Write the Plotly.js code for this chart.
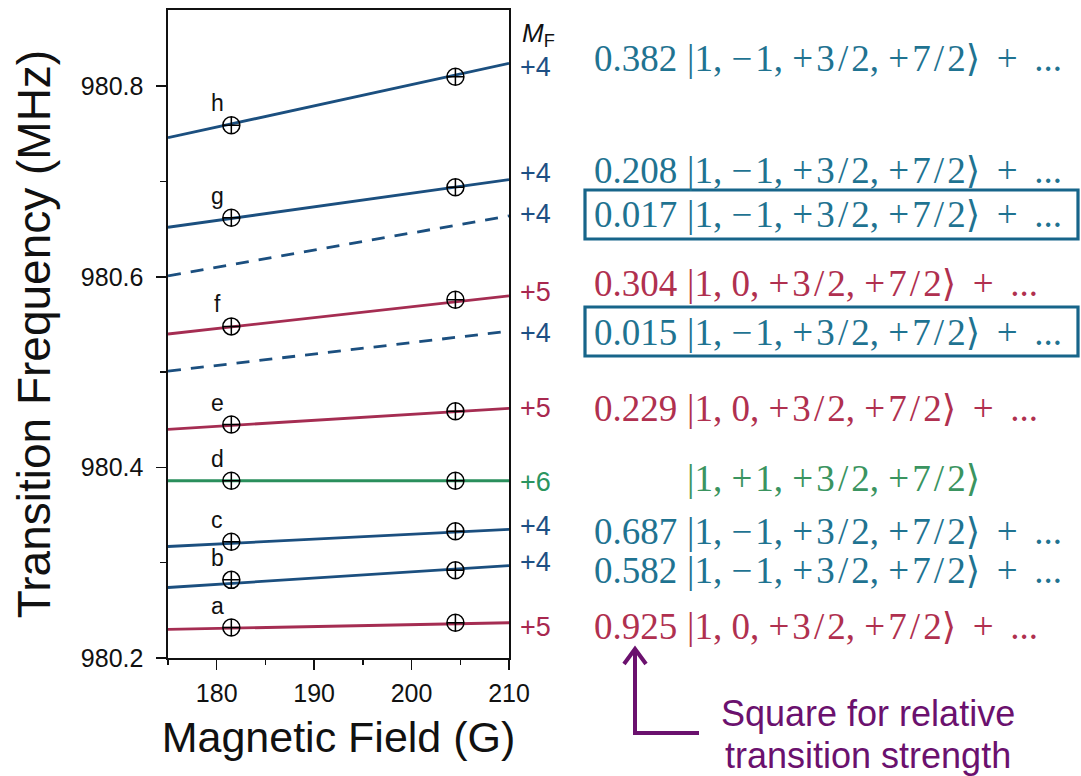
<!DOCTYPE html>
<html>
<head>
<meta charset="utf-8">
<script src="https://cdn.plot.ly/plotly-3.0.1.min.js"></script>
<style>html,body{margin:0;padding:0;background:#fff;}#chart{width:1081px;height:776px;}</style>
</head>
<body>
<div id="chart"></div>
<script>
// ---------------- data ----------------
const transitionNames = ['a', 'b', 'c', 'd', 'e', 'f', 'g', 'h'];
const fieldRange = [175, 210];                    // line end fields (G)
const freqAt175 = [980.230, 980.274, 980.317, 980.386, 980.440, 980.540, 980.652, 980.746];
const freqAt210 = [980.237, 980.297, 980.335, 980.386, 980.462, 980.580, 980.702, 980.824];
const transitionGroup = ['red', 'blue', 'blue', 'green', 'red', 'red', 'blue', 'blue'];
const measuredFields = [181.5, 204.5];            // measurement points (G)
const measuredLow = [980.232, 980.282, 980.322, 980.386, 980.445, 980.548, 980.662, 980.759];
const measuredHigh = [980.237, 980.292, 980.333, 980.386, 980.459, 980.576, 980.694, 980.810];
const weakAt175 = [980.601, 980.501];             // dashed weak transitions
const weakAt210 = [980.664, 980.543];

const ketCoef = ['0.382', '0.208', '0.017', '0.304', '0.015', '0.229', '', '0.687', '0.582', '0.925'];
const ketState = ['|1, \u22121, +3/2, +7/2\u27E9 + ...', '|1, \u22121, +3/2, +7/2\u27E9 + ...',
  '|1, \u22121, +3/2, +7/2\u27E9 + ...', '|1, 0, +3/2, +7/2\u27E9 + ...',
  '|1, \u22121, +3/2, +7/2\u27E9 + ...', '|1, 0, +3/2, +7/2\u27E9 + ...',
  '|1, +1, +3/2, +7/2\u27E9', '|1, \u22121, +3/2, +7/2\u27E9 + ...',
  '|1, \u22121, +3/2, +7/2\u27E9 + ...', '|1, 0, +3/2, +7/2\u27E9 + ...'];
const ketMF = ['+4', '+4', '+4', '+5', '+4', '+5', '+6', '+4', '+4', '+5'];
const ketGroup = ['blue', 'blue', 'blue', 'red', 'blue', 'red', 'green', 'blue', 'blue', 'red'];
const ketBoxed = [false, false, true, false, true, false, false, false, false, false];
const noteLines = ['Square for relative', 'transition strength'];

// ---------------- styles / layout ----------------
const lineColor = {blue: '#1b4f7f', red: '#a52d52', green: '#2a8f5c'};
const mfColor = {blue: '#1d4f84', red: '#a8284f', green: '#2a9560'};
const ketColor = {blue: '#1f7391', red: '#b0304f', green: '#3a9460'};
const boxColor = '#17658a';
const purple = '#6b116e';
const ketRowY = [58, 170, 215, 283, 332, 408, 478, 531, 570, 626];   // pixel rows
const mfRowY = [67, 173, 214, 292, 333, 408, 482, 526, 562, 627];

const PL = 168, PR = 509, PT = 10, PB = 658;
const fx = px => (px - PL) / (PR - PL);
const fy = py => (PB - py) / (PB - PT);

// math-like spacing (wider operators as in typeset formulas)
const TH = '\u2009', HA = '\u200A';
const mathSpace = s => s
  .replace(/ \+ \.\.\./g, TH + ' +' + TH + ' ...')
  .replace(/\//g, HA + '/' + HA)
  .replace(/([ ])([+\u2212])(\d)/g, '$1$2' + HA + '$3');

const traces = [];
transitionNames.forEach((n, i) => {
  traces.push({
    x: fieldRange, y: [freqAt175[i], freqAt210[i]], mode: 'lines', type: 'scatter',
    line: {color: lineColor[transitionGroup[i]], width: 2.8}, hoverinfo: 'skip', showlegend: false
  });
});
weakAt175.forEach((v, i) => {
  traces.push({
    x: fieldRange, y: [weakAt175[i], weakAt210[i]], mode: 'lines', type: 'scatter',
    line: {color: lineColor.blue, width: 2.8, dash: '13px,10px'}, hoverinfo: 'skip', showlegend: false
  });
});
const mx = [], my = [];
transitionNames.forEach((n, i) => {
  mx.push(measuredFields[0], measuredFields[1]);
  my.push(measuredLow[i], measuredHigh[i]);
});
traces.push({
  x: mx, y: my, mode: 'markers', type: 'scatter', showlegend: false,
  marker: {symbol: 'circle-cross-open', size: 17, color: '#000', line: {width: 1.5, color: '#111'}}
});

const annotations = [];
// transition letters
transitionNames.forEach((n, i) => {
  annotations.push({
    x: measuredFields[0], y: measuredLow[i], xref: 'x', yref: 'y', text: n, showarrow: false,
    xanchor: 'center', yanchor: 'middle',
    xshift: -14, yshift: 22, font: {family: 'Liberation Sans, Arial', size: 23, color: '#111'}
  });
});
// M_F header
annotations.push({
  x: fx(538), y: fy(35), xref: 'paper', yref: 'paper', showarrow: false,
  xanchor: 'center', yanchor: 'middle',
  text: '<i>M</i><sub>F</sub>', font: {family: 'Liberation Sans, Arial', size: 26, color: '#111'}
});
ketCoef.forEach((c, i) => {
  const g = ketGroup[i];
  annotations.push({
    x: fx(535), y: fy(mfRowY[i]), xref: 'paper', yref: 'paper', showarrow: false,
    xanchor: 'center', yanchor: 'middle',
    text: ketMF[i], font: {family: 'Liberation Sans, Arial', size: 27, color: mfColor[g]}
  });
  if (c) annotations.push({
    x: fx(679), y: fy(ketRowY[i]), xref: 'paper', yref: 'paper', showarrow: false,
    xanchor: 'right', yanchor: 'middle',
    text: c, font: {family: 'Liberation Serif, serif', size: 37, color: ketColor[g]}
  });
  annotations.push({
    x: fx(685), y: fy(ketRowY[i]), xref: 'paper', yref: 'paper', showarrow: false,
    xanchor: 'left', yanchor: 'middle',
    text: mathSpace(ketState[i]), font: {family: 'Liberation Serif, DejaVu Serif, serif', size: 37, color: ketColor[g]}
  });
});
noteLines.forEach((t, i) => {
  annotations.push({
    x: fx(868), y: fy(713 + 42 * i), xref: 'paper', yref: 'paper', showarrow: false,
    xanchor: 'center', yanchor: 'middle',
    text: t, font: {family: 'Liberation Sans, Arial', size: 36, color: purple}
  });
});

const shapes = [];
ketBoxed.forEach((b, i) => {
  if (!b) return;
  shapes.push({
    type: 'rect', xref: 'paper', yref: 'paper',
    x0: fx(585), x1: fx(1078), y0: fy(ketRowY[i] + 24), y1: fy(ketRowY[i] - 25),
    line: {color: boxColor, width: 3.2}, fillcolor: 'rgba(0,0,0,0)'
  });
});
shapes.push({
  type: 'path', xref: 'paper', yref: 'paper',
  path: `M ${fx(635)} ${fy(651)} L ${fx(635)} ${fy(733)} L ${fx(699)} ${fy(733)}`,
  line: {color: purple, width: 4}
});
shapes.push({
  type: 'path', xref: 'paper', yref: 'paper',
  path: `M ${fx(624)} ${fy(664)} L ${fx(635)} ${fy(649)} L ${fx(646)} ${fy(664)}`,
  line: {color: purple, width: 4}
});

const axisFont = {family: 'Liberation Sans, Arial', size: 25, color: '#111'};
const layout = {
  width: 1081, height: 776,
  margin: {l: PL, r: 1081 - PR, t: PT, b: 776 - PB, pad: 0},
  paper_bgcolor: '#fff', plot_bgcolor: '#fff',
  showlegend: false,
  xaxis: {
    range: [175, 210], tickvals: [180, 190, 200, 210], ticks: 'outside', ticklen: 10, tickwidth: 1.5,
    tickcolor: '#111', showgrid: false, zeroline: false, showline: true, linecolor: '#111', linewidth: 1.6,
    mirror: true, tickfont: axisFont, ticklabelstandoff: 2,
    minor: {tickvals: [175, 185, 195, 205], ticks: 'outside', ticklen: 5, tickwidth: 1.5, tickcolor: '#111', showgrid: false},
    title: {text: 'Magnetic Field (G)', font: {family: 'Liberation Sans, Arial', size: 43, color: '#111'}, standoff: 16}
  },
  yaxis: {
    range: [980.2, 980.88], tickvals: [980.2, 980.4, 980.6, 980.8], ticktext: ['980.2', '980.4', '980.6', '980.8'],
    ticks: 'outside', ticklen: 10, tickwidth: 1.5,
    tickcolor: '#111', showgrid: false, zeroline: false, showline: true, linecolor: '#111', linewidth: 1.6,
    mirror: true, tickfont: axisFont, ticklabelstandoff: 8,
    minor: {tickvals: [980.3, 980.5, 980.7], ticks: 'outside', ticklen: 6, tickwidth: 1.5, tickcolor: '#111', showgrid: false},
    title: {text: 'Transition Frequency (MHz)', font: {family: 'Liberation Sans, Arial', size: 46, color: '#111'}, standoff: 16}
  },
  annotations: annotations,
  shapes: shapes
};

Plotly.newPlot('chart', traces, layout, {staticPlot: true, displayModeBar: false});
</script>
</body>
</html>
